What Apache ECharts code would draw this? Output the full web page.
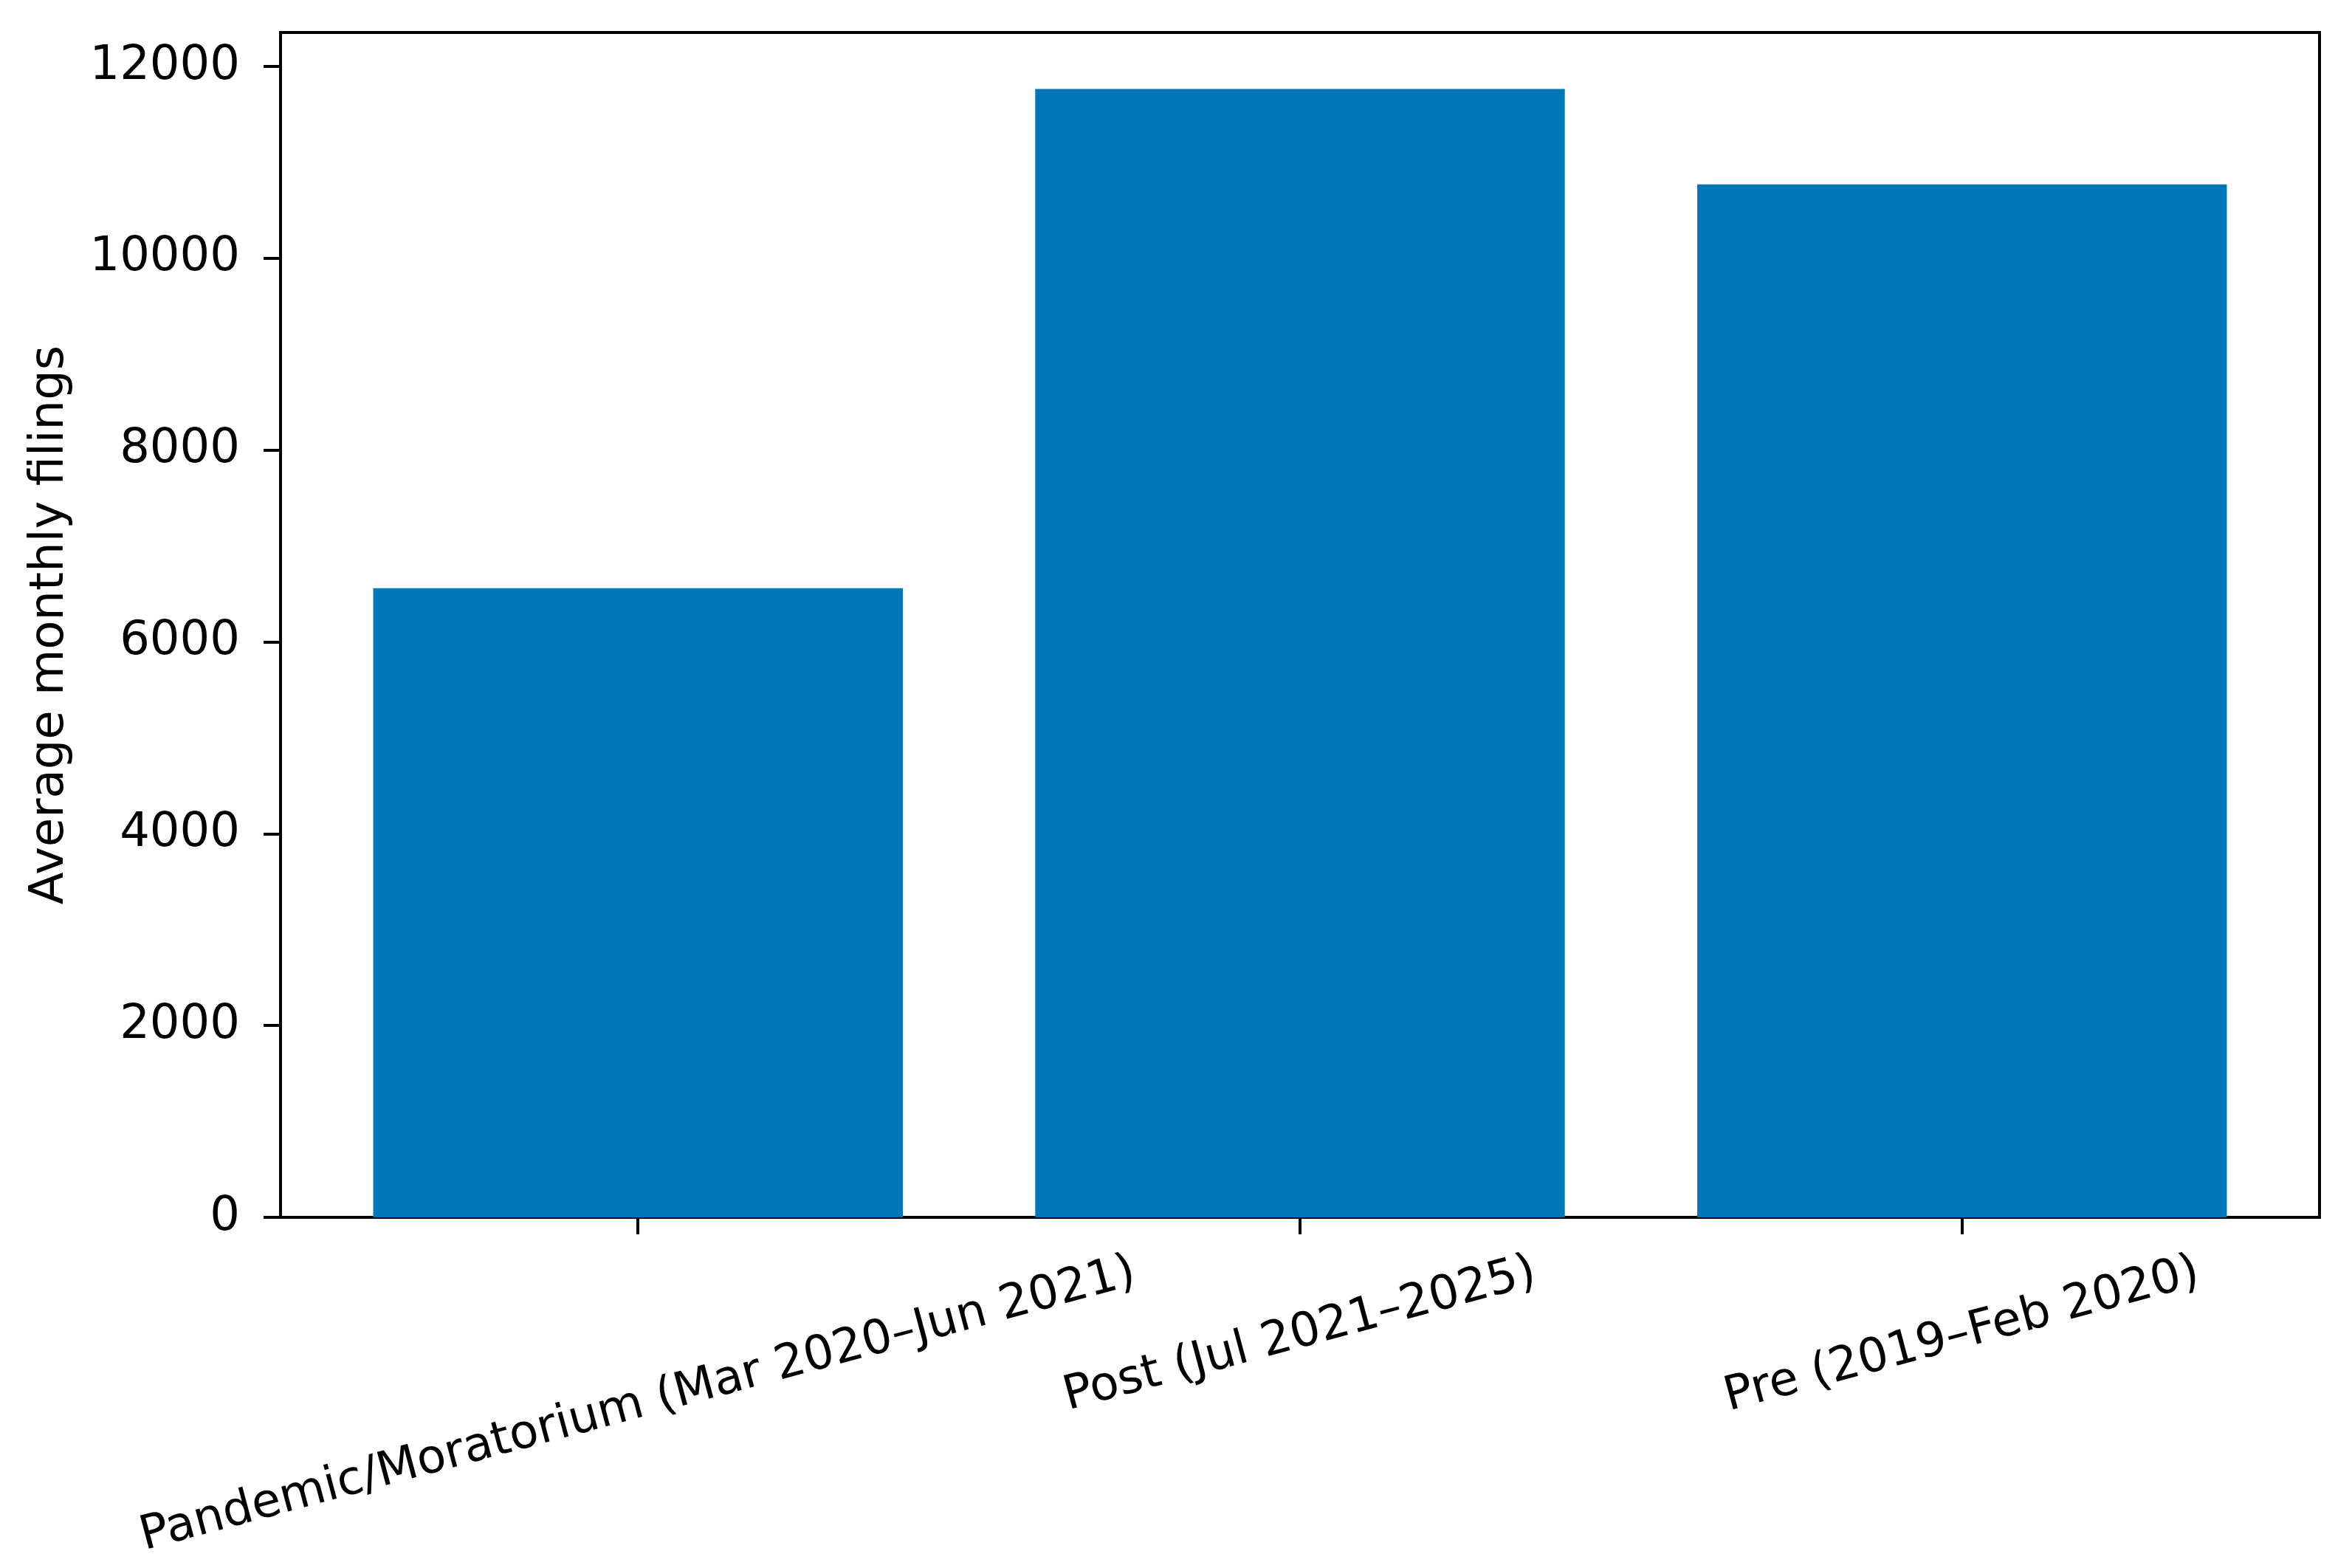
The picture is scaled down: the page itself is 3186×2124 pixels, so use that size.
<!DOCTYPE html>
<html>
<head>
<meta charset="utf-8">
<script src="https://cdn.jsdelivr.net/npm/echarts@6/dist/echarts.min.js"></script>
<style>
html,body{margin:0;padding:0;background:#fff;}
#chart{width:3186px;height:2124px;}
</style>
</head>
<body>
<div id="chart"></div>
<script>
// ---- data ----
const categories = ["Pandemic/Moratorium (Mar 2020\u2013Jun 2021)", "Post (Jul 2021\u20132025)", "Pre (2019\u2013Feb 2020)"];
const filings = [6560, 11765, 10770];
const yTicks = [0, 2000, 4000, 6000, 8000, 10000, 12000];
const yTitle = "Average monthly filings";

// ---- layout helpers (matplotlib-like rotated label placement) ----
const FONT = 'DejaVu Sans';
const FS = 64;
const ROT = 15;
const rad = ROT * Math.PI / 180;
const ctx = document.createElement('canvas').getContext('2d');
ctx.font = FS + 'px "' + FONT + '"';
const rich = {};
categories.forEach((c, i) => {
  const L = ctx.measureText(c).width;
  const d = L * Math.sin(rad) / 2;          // extra downward shift of center
  rich['r' + i] = {
    fontFamily: FONT, fontSize: FS, color: '#000',
    padding: [2 * d * Math.cos(rad), 2 * d * Math.sin(rad), 0, 0]
  };
});

const xIdx = categories.map((c, i) => i);
const seriesData = filings.map((v, i) => [xIdx[i], v]);
const yMax = Math.max(...filings) * 1.05;

const chart = echarts.init(document.getElementById('chart'), null, {renderer: 'canvas'});
chart.setOption({
  animation: false,
  backgroundColor: '#fff',
  grid: {left: 380, right: 44, top: 44, bottom: 475, show: true, borderColor: '#000', borderWidth: 4, containLabel: false},
  xAxis: {
    type: 'value', min: -0.54, max: 2.54,
    splitLine: {show: false},
    axisLine: {show: true, onZero: false, lineStyle: {color: '#000', width: 4}},
    axisTick: {show: true, length: 23, customValues: xIdx, lineStyle: {color: '#000', width: 4}},
    axisLabel: {
      customValues: xIdx, rotate: ROT, align: 'center', verticalAlign: 'middle', margin: 74,
      fontFamily: FONT, fontSize: FS, color: '#000',
      formatter: v => '{r' + v + '|' + categories[v] + '}',
      rich: rich
    }
  },
  yAxis: {
    type: 'value', min: 0, max: yMax,
    name: yTitle, nameLocation: 'middle', nameGap: 280, nameRotate: 90,
    nameTextStyle: {fontFamily: FONT, fontSize: FS, color: '#000'},
    splitLine: {show: false},
    axisLine: {show: true, onZero: false, lineStyle: {color: '#000', width: 4}},
    axisTick: {show: true, length: 23, customValues: yTicks, lineStyle: {color: '#000', width: 4}},
    axisLabel: {customValues: yTicks, margin: 55, fontFamily: FONT, fontSize: FS, color: '#000',
      formatter: v => String(v)}
  },
  series: [{
    type: 'bar', data: seriesData, barWidth: '80%',
    itemStyle: {color: '#0077B7'}
  }]
});
</script>
</body>
</html>
